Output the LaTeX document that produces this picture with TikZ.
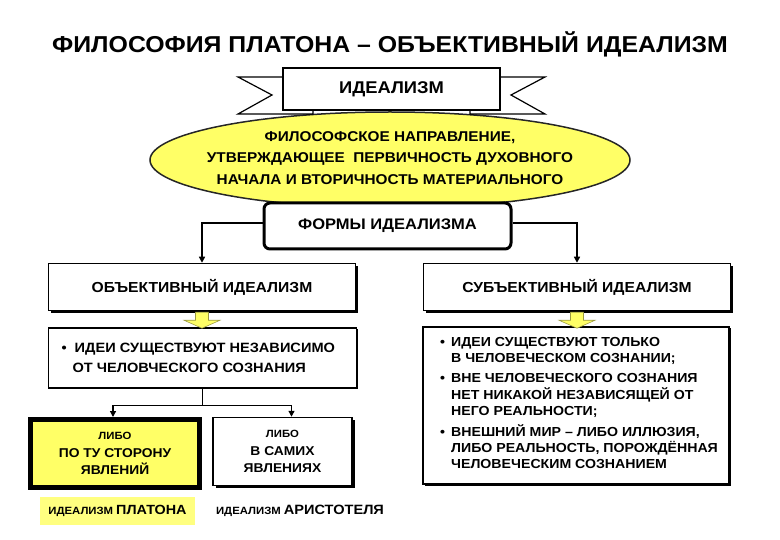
\documentclass[tikz,border=0pt]{standalone}
\usepackage{fontspec}
\setmainfont[FakeStretch=1.08]{Liberation Sans}
\usetikzlibrary{shapes.geometric,arrows.meta,shadows}
\definecolor{elly}{HTML}{FFFF66}
\definecolor{stripy}{HTML}{FFFF80}
\definecolor{arrowedge}{HTML}{9A9A40}
\newcommand\myfs[2]{\fontsize{#1}{#2}\selectfont\bfseries}
\begin{document}
\begin{tikzpicture}[x=1pt,y=-1pt,
  conn/.style={line width=1.3pt,-{Triangle[length=6pt,width=6pt]}},
  shbox/.style={draw=black,line width=1.5pt,fill=white,
    drop shadow={shadow xshift=2.5pt,shadow yshift=-2.5pt,fill=black,opacity=1}},
  tail/.style={draw=black,line width=1.2pt,fill=white,line join=miter},
  blockarrow/.style={fill=elly,draw=arrowedge,line width=0.6pt}]
\useasboundingbox (0,0) rectangle (780,540);

% title
\node[font=\myfs{23}{26}] (title) at (390,44) {ФИЛОСОФИЯ ПЛАТОНА – ОБЪЕКТИВНЫЙ ИДЕАЛИЗМ};

% ellipse
\node[ellipse,draw=black!85,line width=1.5pt,fill=elly,minimum width=480pt,minimum height=96pt] (ell) at (390,160) {};
\node[align=center,font=\myfs{14.2}{21.5}] (elltxt) at (390,158)
  {ФИЛОСОФСКОЕ НАПРАВЛЕНИЕ,\\УТВЕРЖДАЮЩЕЕ\ \ ПЕРВИЧНОСТЬ ДУХОВНОГО\\НАЧАЛА И ВТОРИЧНОСТЬ МАТЕРИАЛЬНОГО};

% ribbon
\filldraw[tail] (283,77) -- (238,77) -- (272,95) -- (238,114) -- (313,114) -- (313,108) -- (283,108) -- cycle;
\filldraw[tail] (500,77) -- (545,77) -- (511,95) -- (545,114) -- (470,114) -- (470,108) -- (500,108) -- cycle;
\node[draw=black,line width=1.2pt,fill=white,minimum width=217pt,minimum height=42pt,font=\myfs{17}{20}] (rib) at (391.5,89) {ИДЕАЛИЗМ};

% forms
\node[draw=black,rounded corners=6pt,line width=3pt,fill=white,minimum width=247pt,minimum height=46pt,font=\myfs{15.3}{18}] (forms) at (387.5,226) {ФОРМЫ ИДЕАЛИЗМА};

% headers
\node[shbox,minimum width=307pt,minimum height=47pt,font=\myfs{14.5}{17}] (objh) at (202,287) {ОБЪЕКТИВНЫЙ ИДЕАЛИЗМ};
\node[shbox,minimum width=307pt,minimum height=47pt,font=\myfs{14.5}{17}] (subh) at (577,287) {СУБЪЕКТИВНЫЙ ИДЕАЛИЗМ};

\draw[conn] ([yshift=3pt]forms.west) -| (objh.north);
\draw[conn] ([yshift=3pt]forms.east) -| (subh.north);

% bullet boxes
\node[draw=black,line width=1.3pt,fill=white,minimum width=308pt,minimum height=60pt,
  drop shadow={shadow xshift=1.5pt,shadow yshift=-1.5pt,fill=black,opacity=1}] (lb) at (202.5,358) {};
\node[anchor=west,align=left,font=\myfs{13.5}{19.5}] (lbt) at (58,358)
  {\textbullet\ \ ИДЕИ СУЩЕСТВУЮТ НЕЗАВИСИМО\\\hspace*{11pt}ОТ ЧЕЛОВЧЕСКОГО СОЗНАНИЯ};

\node[draw=black,line width=1.3pt,fill=white,minimum width=306pt,minimum height=157pt,
  drop shadow={shadow xshift=1.5pt,shadow yshift=-1.5pt,fill=black,opacity=1}] (rb) at (576,405.5) {};
\node[anchor=north west,inner sep=0pt,font=\myfs{13.1}{16.3}] (rbt) at (440,335)
  {\begin{tabular}{@{}l@{\hspace{6pt}}l@{}}
   \textbullet & ИДЕИ СУЩЕСТВУЮТ ТОЛЬКО\\
               & В ЧЕЛОВЕЧЕСКОМ СОЗНАНИИ;\\[3.5pt]
   \textbullet & ВНЕ ЧЕЛОВЕЧЕСКОГО СОЗНАНИЯ\\
               & НЕТ НИКАКОЙ НЕЗАВИСЯЩЕЙ ОТ\\
               & НЕГО РЕАЛЬНОСТИ;\\[3.5pt]
   \textbullet & ВНЕШНИЙ МИР – ЛИБО ИЛЛЮЗИЯ,\\
               & ЛИБО РЕАЛЬНОСТЬ, ПОРОЖДЁННАЯ\\
               & ЧЕЛОВЕЧЕСКИМ СОЗНАНИЕМ
   \end{tabular}};

% yellow block arrows
\filldraw[blockarrow,shift={(objh.south)}] (-6.5,1) -- (6.5,1) -- (6.5,9) -- (18,9) -- (0,17) -- (-18,9) -- (-6.5,9) -- cycle;
\filldraw[blockarrow,shift={(subh.south)}] (-6.5,1) -- (6.5,1) -- (6.5,9) -- (18,9) -- (0,17) -- (-18,9) -- (-6.5,9) -- cycle;

% lower boxes
\node[draw=black,line width=5pt,fill=elly,minimum width=169pt,minimum height=68pt,align=center,font=\myfs{12.8}{17.5}] (plat) at (115,453.5)
  {{\fontsize{10.5}{17.5}\selectfont ЛИБО}\\ПО ТУ СТОРОНУ\\ЯВЛЕНИЙ};
\node[shbox,minimum width=139pt,minimum height=68pt,align=center,font=\myfs{12.8}{17.5}] (arist) at (282.5,451.5)
  {{\fontsize{10.5}{17.5}\selectfont ЛИБО}\\В САМИХ\\ЯВЛЕНИЯХ};

\draw[line width=1.3pt] (lb.south) -- ++(0,17) coordinate (jn);
\draw[conn] (jn) -| ([xshift=-2pt]plat.north);
\draw[conn] (jn) -| ([xshift=9pt]arist.north);

% labels
\node[fill=stripy,minimum width=155pt,minimum height=28pt] (pl) at (117.5,511)
  {{\myfs{10.5}{13}ИДЕАЛИЗМ} {\myfs{13.3}{15}ПЛАТОНА}};
\node (al) at (300,511) {{\myfs{10.5}{13}ИДЕАЛИЗМ} {\myfs{13.5}{15}АРИСТОТЕЛЯ}};
\end{tikzpicture}
\end{document}
